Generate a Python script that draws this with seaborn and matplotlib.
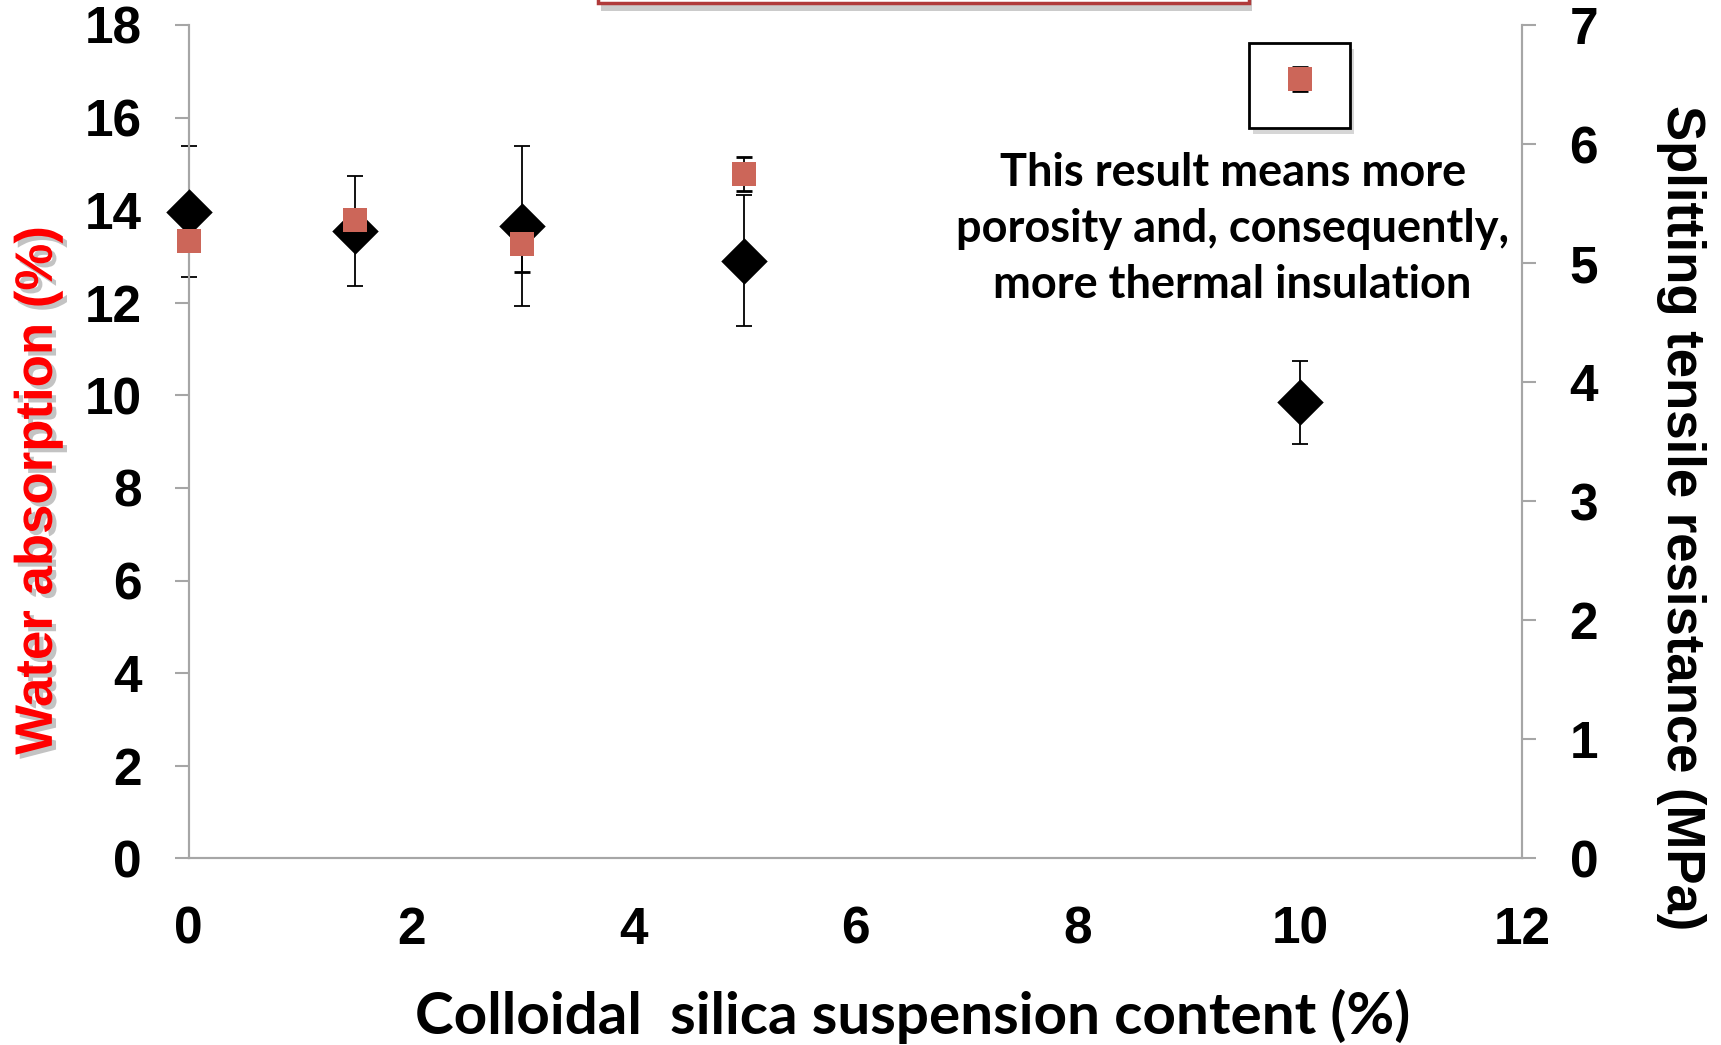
import numpy as np
import pandas as pd
import matplotlib
matplotlib.use("Agg")
import matplotlib.pyplot as plt
import matplotlib.patheffects as pe
from matplotlib.patches import Rectangle
import seaborn as sns

# colloidal silica content (%)
silica = [0, 1.5, 3, 5, 10]

# water absorption (%), left axis
water = [13.33, 13.79, 13.26, 14.78, 16.83]
water_err = [0.15, 0.15, 0.59, 0.37, 0.26]

# splitting tensile resistance (MPa), right axis
tensile = [5.43, 5.27, 5.31, 5.02, 3.83]
tensile_err = [0.55, 0.46, 0.67, 0.55, 0.35]

x_ticks = [0, 2, 4, 6, 8, 10, 12]
left_ticks = [0, 2, 4, 6, 8, 10, 12, 14, 16, 18]
right_ticks = [0, 1, 2, 3, 4, 5, 6, 7]

note = "This result means more\nporosity and, consequently,\nmore thermal insulation"

df = pd.DataFrame({"silica": silica, "water": water, "tensile": tensile})

sns.set_theme(style="white")
plt.rcParams["font.family"] = ["Liberation Sans", "DejaVu Sans"]
plt.rcParams["text.color"] = "black"

fig = plt.figure(figsize=(17.21, 10.45), dpi=100)
ax = fig.add_axes([0.1097, 0.1786, 0.7749, 0.7975])
ax2 = ax.twinx()
ax.patch.set_visible(False)
ax2.patch.set_visible(False)

ax.set_xlim(0, 12)
ax.set_ylim(0, 18)
ax2.set_ylim(0, 7)

spine_col = "#a6a6a6"
red = "#cc6659"

# both series live on the top (twin) axes so the markers cover the spines;
# the water series uses the left axis scale through ax.transData
ax2.errorbar(silica, tensile, yerr=tensile_err, fmt="none", ecolor="black",
             elinewidth=1.3, capsize=5.5, capthick=1.3, zorder=2, clip_on=False)
sns.scatterplot(data=df, x="silica", y="tensile", ax=ax2, marker="D", s=560,
                color="black", edgecolor="black", linewidth=0, zorder=3,
                clip_on=False)

ax2.errorbar(silica, water, yerr=water_err, fmt="none", ecolor="black",
             elinewidth=1.3, capsize=5.5, capthick=2, zorder=4, clip_on=False,
             transform=ax.transData)
sns.scatterplot(data=df, x="silica", y="water", ax=ax2, marker="s", s=280,
                color=red, edgecolor=red, linewidth=0, zorder=5, clip_on=False,
                transform=ax.transData)

ax.set_xlim(0, 12)
ax.set_ylim(0, 18)
ax2.set_ylim(0, 7)
ax.set_xticks(x_ticks)
ax.set_yticks(left_ticks)
ax2.set_yticks(right_ticks)
ax.set_xticklabels([str(v) for v in x_ticks])
ax.set_yticklabels([str(v) for v in left_ticks])
ax2.set_yticklabels([str(v) for v in right_ticks])

for a in (ax, ax2):
    a.set_xlabel("")
    a.set_ylabel("")
    a.spines["top"].set_visible(False)
    for s in ("left", "right", "bottom"):
        a.spines[s].set_color(spine_col)
        a.spines[s].set_linewidth(1.5)
    a.tick_params(axis="both", which="major", direction="out", length=10,
                  width=1.5, color=spine_col, pad=24, labelsize=37,
                  labelcolor="black")
    for lab in a.get_xticklabels() + a.get_yticklabels():
        lab.set_fontweight("bold")
ax2.tick_params(axis="x", bottom=False, labelbottom=False)
ax.tick_params(axis="y", right=False)

fig.text(0.530, 0.027, "Colloidal  silica suspension content (%)",
         ha="center", va="center", fontsize=42, fontweight="bold",
         color="black", family=["Lato", "DejaVu Sans"])

fig.text(0.022, 0.53, "Water absorption (%)", rotation=90, ha="center",
         va="center", fontsize=38, fontweight="bold", color="#ff0000",
         path_effects=[pe.withSimplePatchShadow(offset=(3, -3),
                                                shadow_rgbFace="#888888",
                                                alpha=0.5)])

fig.text(0.977, 0.505, "Splitting tensile resistance (MPa)", rotation=-90,
         ha="center", va="center", fontsize=38, fontweight="bold",
         color="black")

# annotation box around the 10 % water absorption point
box = Rectangle((1249 / 1721, 1 - 128 / 1045), 101 / 1721, 85 / 1045,
                transform=fig.transFigure, facecolor="white",
                edgecolor="black", linewidth=2, zorder=-1,
                path_effects=[pe.SimplePatchShadow(offset=(3, -4),
                                                   shadow_rgbFace="#bbbbbb",
                                                   alpha=0.6), pe.Normal()])
fig.patches.append(box)

fig.text(1232.6 / 1721, 1 - 229 / 1045, note, ha="center", va="center",
         fontsize=32.5, fontweight="bold", linespacing=1.41, color="black",
         family=["Lato", "DejaVu Sans"])

# lower edge of the cut-off title box
top_box = Rectangle((598 / 1721, 1 - 3 / 1045), 651 / 1721, 20 / 1045,
                    transform=fig.transFigure, facecolor="white",
                    edgecolor="#b03a3a", linewidth=2.5, zorder=5,
                    path_effects=[pe.SimplePatchShadow(offset=(2, -6),
                                                       shadow_rgbFace="#999999",
                                                       alpha=0.5), pe.Normal()])
fig.patches.append(top_box)

fig.savefig("out.png", dpi=100)
